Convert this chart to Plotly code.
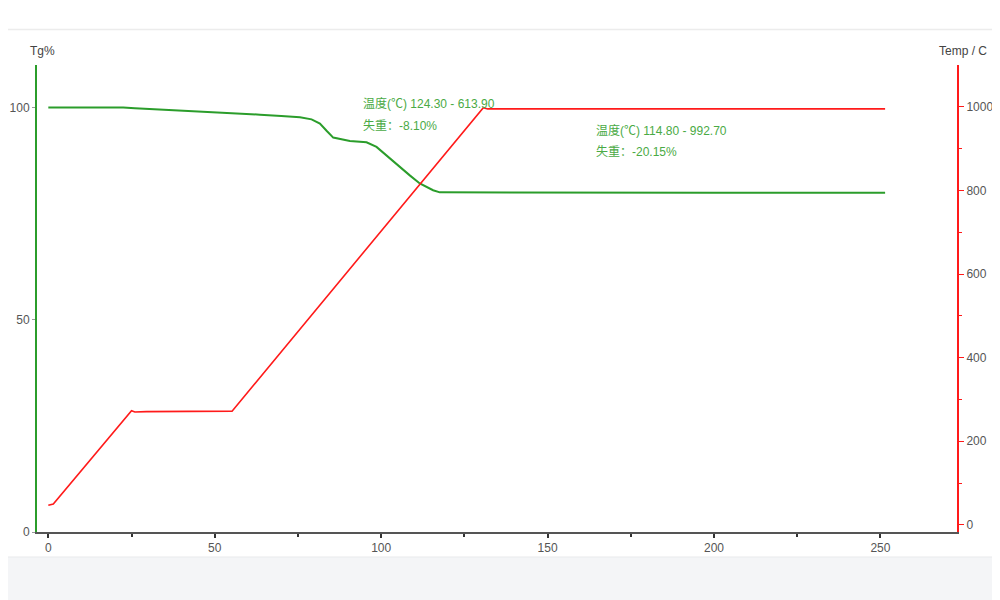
import plotly.graph_objects as go

# TG curve (time in min vs mass %)
tg_time = [0, 10, 22.5, 26, 31.5, 40, 47.6, 55, 63.6, 70, 75.6, 79.1, 81.6, 83.6, 85.6,
           90.6, 95.6, 98.6, 102.6, 105.6, 108.6, 111.6, 115.6, 117.6, 150, 200, 251.4]
tg_mass = [100, 100, 100, 99.8, 99.6, 99.2, 98.9, 98.6, 98.3, 98.0, 97.7, 97.2, 96.2, 94.5, 92.9,
           92.1, 91.8, 90.7, 88.0, 85.8, 84.0, 82.1, 80.5, 80.0, 79.9, 79.9, 79.9]

# temperature program
temp_time = [0, 1.5, 25.0, 26.0, 29.5, 55.2, 130.7, 132, 200, 251.4]
temp_val = [47, 50, 273, 270, 271, 272, 998, 995, 995, 995]

notes = ['温度(℃) 124.30 - 613.90', '失重：-8.10%', '温度(℃) 114.80 - 992.70', '失重：-20.15%']
note_x = [0.352, 0.352, 0.6054, 0.6054]
note_y = [0.9165, 0.8715, 0.8587, 0.8158]

green = '#2b9d2b'
red = '#ff1a1a'
font = 'Arial, Liberation Sans, Noto Sans CJK SC, sans-serif'

fig = go.Figure()
fig.add_trace(go.Scatter(x=tg_time, y=tg_mass, mode='lines', line=dict(color=green, width=2),
                         name='Tg', yaxis='y'))
fig.add_trace(go.Scatter(x=temp_time, y=temp_val, mode='lines', line=dict(color=red, width=1.6),
                         name='Temp', yaxis='y2'))

# page body has an 8px margin, so the figure is 8px smaller each way
fig.update_layout(
    width=992, height=592,
    margin=dict(l=29, r=43, t=57, b=68),
    paper_bgcolor='white', plot_bgcolor='white',
    showlegend=False,
    font=dict(family=font, size=12, color='#555'),
    xaxis=dict(range=[-3.4, 273], showgrid=False, zeroline=False, automargin=False,
               showline=True, linecolor='#555', linewidth=2,
               tickmode='array', tickvals=[0, 50, 100, 150, 200, 250],
               ticks='outside', ticklen=4, tickcolor='#333', tickwidth=2,
               minor=dict(tickvals=[25, 75, 125, 175, 225], ticks='outside', ticklen=3,
                          tickcolor='#333', tickwidth=2)),
    yaxis=dict(range=[0, 110], showgrid=False, zeroline=False, automargin=False,
               showline=True, linecolor=green, linewidth=2,
               tickvals=[0, 50, 100], ticks='outside', ticklen=3, tickcolor='#999'),
    yaxis2=dict(range=[-17, 1100], overlaying='y', side='right', showgrid=False, zeroline=False,
                automargin=False, showline=True, linecolor=red, linewidth=2,
                tickvals=[0, 200, 400, 600, 800, 1000], ticks='outside', ticklen=5,
                tickcolor=red, tickwidth=1,
                minor=dict(tickvals=[100, 300, 500, 700, 900], ticks='outside', ticklen=3,
                           tickcolor=red)),
)

# page background bits
fig.add_shape(type='line', xref='paper', yref='paper', x0=-0.04, x1=1.05, y0=1.076, y1=1.076,
              line=dict(color='#ececec', width=1.5), layer='below')
fig.add_shape(type='rect', xref='paper', yref='paper', x0=-0.04, x1=1.05, y0=-0.0535, y1=-0.2,
              fillcolor='#f4f5f7', line=dict(width=0), layer='below')
fig.add_shape(type='line', xref='paper', yref='paper', x0=-0.04, x1=1.05, y0=-0.0535, y1=-0.0535,
              line=dict(color='#e9eaec', width=1), layer='below')

# axis titles
fig.add_annotation(text='Tg%', xref='paper', yref='paper', x=0.0065, y=1.03, showarrow=False,
                   xanchor='center', yanchor='middle', font=dict(size=12, color='#444'))
fig.add_annotation(text='Temp / C', xref='paper', yref='paper', x=1.0065, y=1.03, showarrow=False,
                   xanchor='center', yanchor='middle', font=dict(size=12, color='#444'))

for t, xx, yy in zip(notes, note_x, note_y):
    fig.add_annotation(text=t, xref='paper', yref='paper', x=xx, y=yy, xanchor='left',
                       yanchor='middle', showarrow=False,
                       font=dict(size=12, color='#4aaa45',
                                 family='Arial, Liberation Sans, Noto Sans CJK SC, sans-serif'))

fig.write_html('out.html')
